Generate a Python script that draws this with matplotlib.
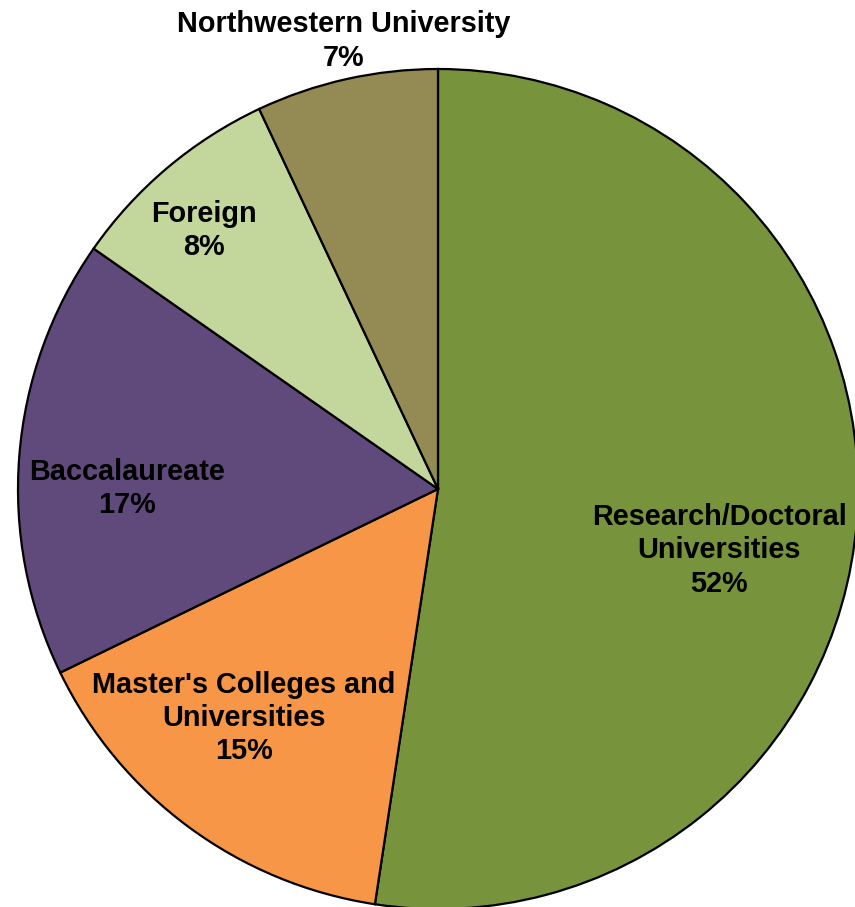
import numpy as np
import matplotlib.pyplot as plt

plt.rcParams['font.family'] = ['Liberation Sans', 'DejaVu Sans']

# 数据（顺时针，从正上方开始）
categories = ['Research/Doctoral\nUniversities', "Master's Colleges and\nUniversities",
              'Baccalaureate', 'Foreign', 'Northwestern University']
shares = [52.4, 15.4, 16.9, 8.3, 7.0]
colors = ['#77933C', '#F79646', '#604A7B', '#C3D69B', '#948A54']

# 标签位置：距圆心距离, 角度偏移
label_r = [0.685, 0.715, 0.74, 0.83, 1.09]
label_off = [-8.0, -4.0, 4.4, 2.0, -0.7]

fig = plt.figure(figsize=(8.55, 9.07), dpi=100)
ax = fig.add_axes([18/855, -2/907, 840/855, 840/907])

wedges, _ = ax.pie(shares, colors=colors, startangle=90, counterclock=False,
                   radius=1.0, wedgeprops=dict(edgecolor='black', linewidth=1.6))

for w, name, v, r, off in zip(wedges, categories, shares, label_r, label_off):
    mid = np.deg2rad((w.theta1 + w.theta2) / 2 + off)
    ax.text(r*np.cos(mid), r*np.sin(mid), '%s\n%d%%' % (name, round(v)),
            ha='center', va='center', fontsize=20.8, fontweight='bold',
            linespacing=1.24, clip_on=False)

ax.set_xlim(-1, 1)
ax.set_ylim(-1, 1)
ax.set_aspect('auto')
ax.axis('off')

fig.savefig('out.png', dpi=100)
